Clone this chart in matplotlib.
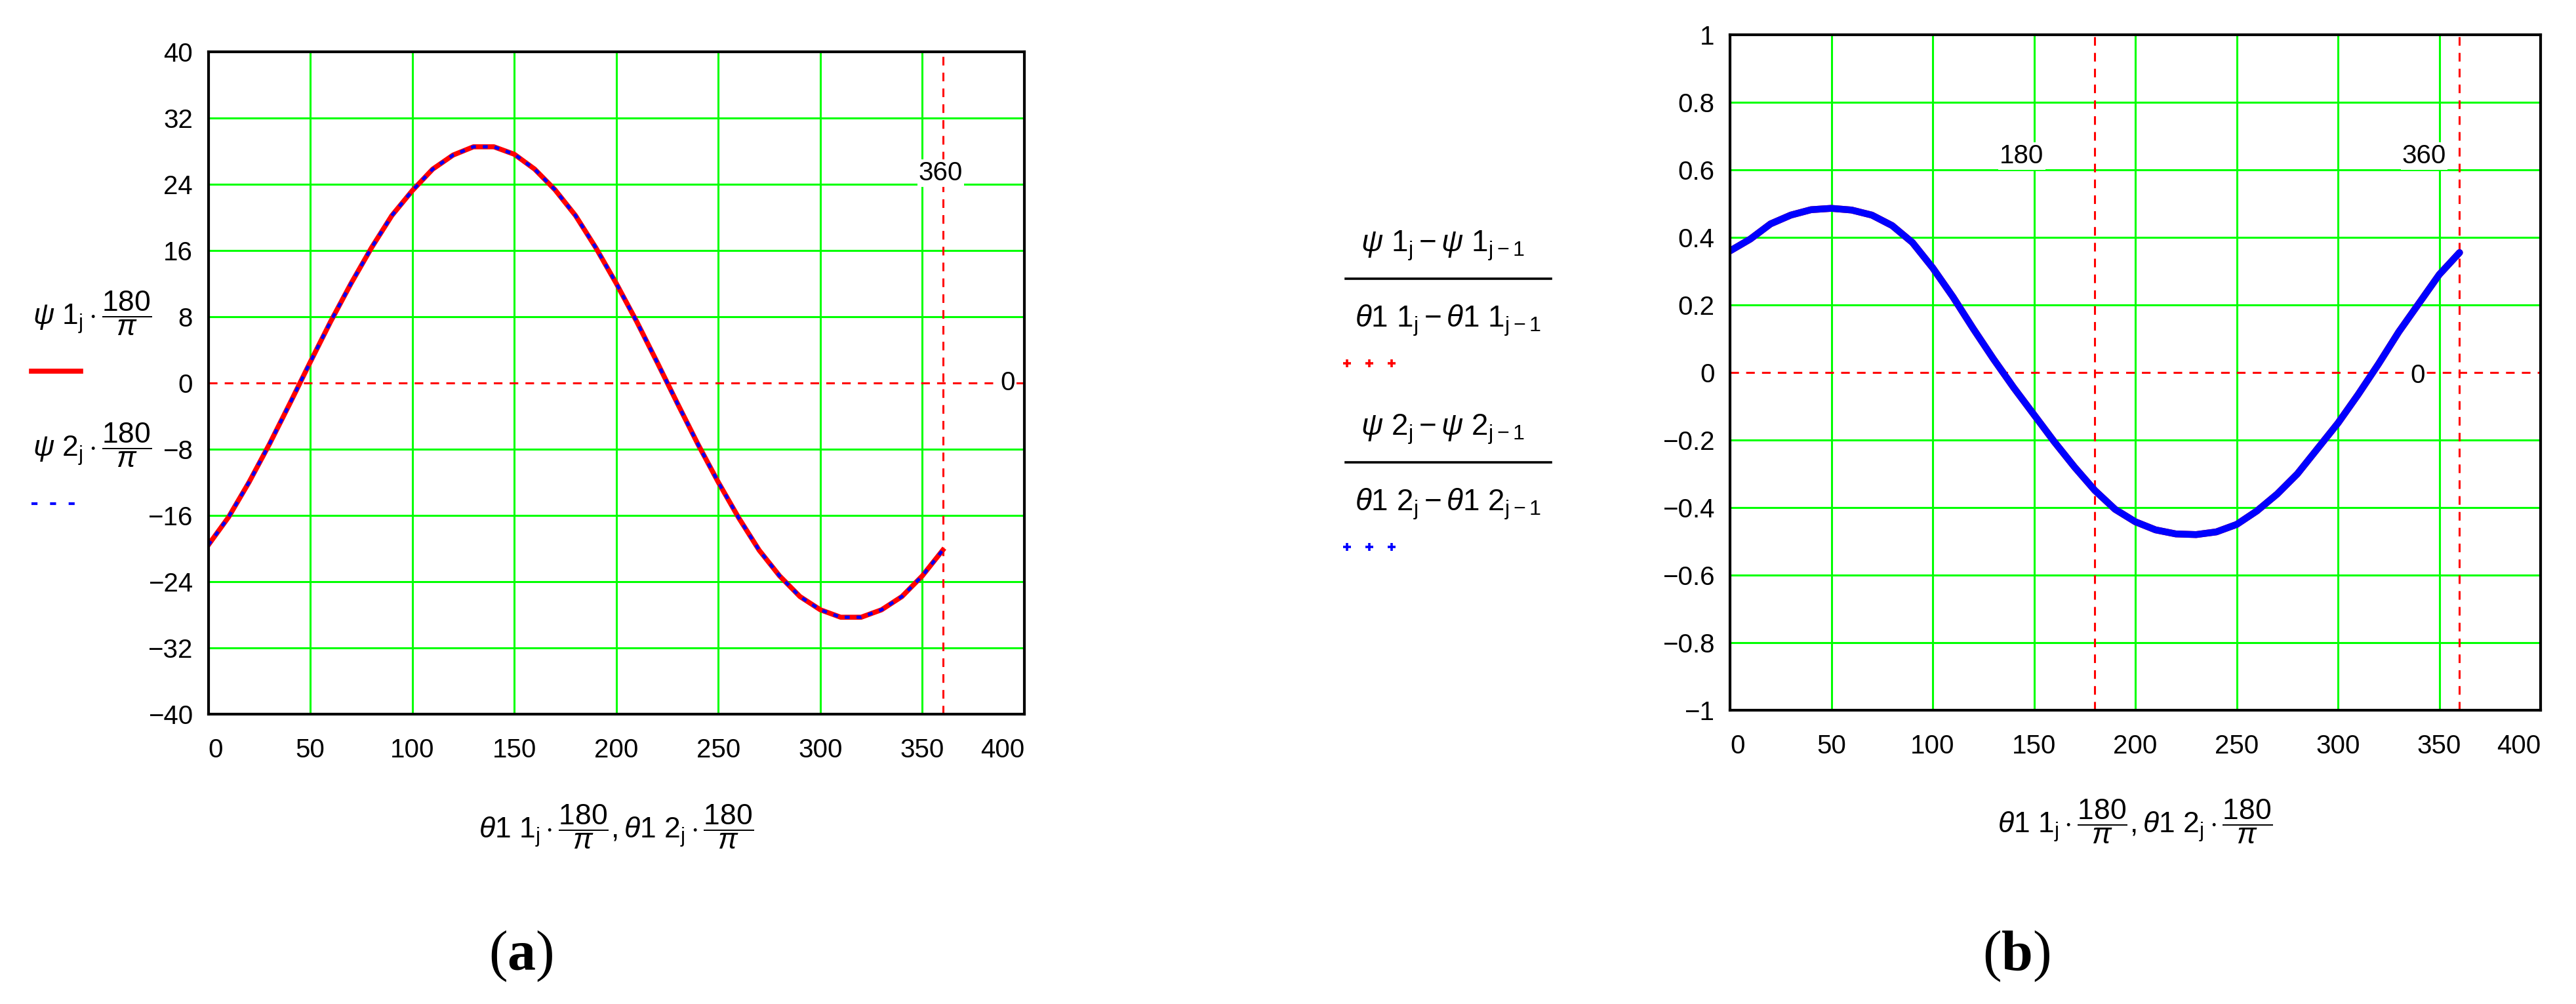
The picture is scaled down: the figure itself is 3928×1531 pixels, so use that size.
import matplotlib
matplotlib.use("Agg")
import matplotlib.pyplot as plt
from matplotlib.lines import Line2D

plt.rcParams['font.family'] = ['Liberation Sans', 'DejaVu Sans']
plt.rcParams['mathtext.fontset'] = 'custom'
plt.rcParams['mathtext.rm'] = 'Liberation Sans'
plt.rcParams['mathtext.it'] = 'Liberation Sans:italic'
plt.rcParams['mathtext.bf'] = 'Liberation Serif:bold'
plt.rcParams['axes.unicode_minus'] = True

# ---------------- data ----------------
theta = [0, 10, 20, 30, 40, 50, 60, 70, 80, 90, 100, 110, 120, 130, 140, 150,
         160, 170, 180, 190, 200, 210, 220, 230, 240, 250, 260, 270, 280, 290,
         300, 310, 320, 330, 340, 350, 360]

# psi1 * 180/pi  (deg)
psi_1 = [-19.6, -16.2, -12.0, -7.4, -2.5, 2.5, 7.4, 12.0, 16.3, 20.2, 23.2,
         25.8, 27.5, 28.5, 28.5, 27.6, 25.8, 23.3, 20.2, 16.3, 12.0, 7.4, 2.5,
         -2.5, -7.4, -12.0, -16.3, -20.2, -23.3, -25.8, -27.4, -28.3, -28.3,
         -27.4, -25.8, -23.3, -20.2]
# psi2 * 180/pi coincides with psi1
psi_2 = [-19.6, -16.2, -12.0, -7.4, -2.5, 2.5, 7.4, 12.0, 16.3, 20.2, 23.2,
         25.8, 27.5, 28.5, 28.5, 27.6, 25.8, 23.3, 20.2, 16.3, 12.0, 7.4, 2.5,
         -2.5, -7.4, -12.0, -16.3, -20.2, -23.3, -25.8, -27.4, -28.3, -28.3,
         -27.4, -25.8, -23.3, -20.2]

# finite-difference ratios (dimensionless)
dpsi_1 = [0.36, 0.395, 0.44, 0.466, 0.482, 0.486, 0.481, 0.466, 0.435, 0.385,
          0.31, 0.224, 0.13, 0.04, -0.045, -0.125, -0.205, -0.28, -0.349,
          -0.405, -0.442, -0.466, -0.478, -0.48, -0.472, -0.45, -0.41, -0.36,
          -0.30, -0.225, -0.15, -0.065, 0.025, 0.12, 0.205, 0.29, 0.355]
dpsi_2 = [0.36, 0.395, 0.44, 0.466, 0.482, 0.486, 0.481, 0.466, 0.435, 0.385,
          0.31, 0.224, 0.13, 0.04, -0.045, -0.125, -0.205, -0.28, -0.349,
          -0.405, -0.442, -0.466, -0.478, -0.48, -0.472, -0.45, -0.41, -0.36,
          -0.30, -0.225, -0.15, -0.065, 0.025, 0.12, 0.205, 0.29, 0.355]

xticks = [0, 50, 100, 150, 200, 250, 300, 350, 400]
xtick_labels = ["0", "50", "100", "150", "200", "250", "300", "350", "400"]
yticks_a = [-40, -32, -24, -16, -8, 0, 8, 16, 24, 32, 40]
ytick_labels_a = ["\u221240", "\u221232", "\u221224", "\u221216", "\u22128", "0",
                  "8", "16", "24", "32", "40"]
yticks_b = [-1, -0.8, -0.6, -0.4, -0.2, 0, 0.2, 0.4, 0.6, 0.8, 1]
ytick_labels_b = ["\u22121", "\u22120.8", "\u22120.6", "\u22120.4", "\u22120.2", "0",
                  "0.2", "0.4", "0.6", "0.8", "1"]

markers_a_x = [360]
markers_b_x = [180, 360]

# ---------------- figure ----------------
W, H = 3928, 1531
DPI = 100
fig = plt.figure(figsize=(W / DPI, H / DPI), dpi=DPI)


def fx(x):
    return x / W


def fy(y):
    return 1 - y / H


GREEN = '#00FF00'
TICK_FS = 29
FORM_FS = 32


def setup_axes(ax, yt, ytl, ylim):
    ax.set_xlim(0, 400)
    ax.set_ylim(*ylim)
    ax.set_xticks(xticks)
    ax.set_xticklabels(xtick_labels)
    ax.set_yticks(yt)
    ax.set_yticklabels(ytl)
    ax.tick_params(length=0, labelsize=TICK_FS)
    ax.tick_params(axis='x', pad=26)
    ax.tick_params(axis='y', pad=17)
    labs = ax.get_xticklabels()
    labs[0].set_ha('left')
    labs[-1].set_ha('right')
    for s in ax.spines.values():
        s.set_linewidth(3)
        s.set_color('black')
        s.set_zorder(6)
    for x in xticks[1:-1]:
        ax.axvline(x, color=GREEN, lw=2.2, zorder=1)
    for y in yt[1:-1]:
        if y != 0:
            ax.axhline(y, color=GREEN, lw=2.2, zorder=1)
    ax.axhline(0, color='red', lw=2.2, dashes=(4.3, 3.6), zorder=2)


# ---- panel (a) ----
ax_a = fig.add_axes([fx(317.5), fy(1089), fx(1562 - 317.5), (1089 - 78.6) / H])
setup_axes(ax_a, yticks_a, ytick_labels_a, (-40, 40))
for xm in markers_a_x:
    ax_a.axvline(xm, color='red', lw=2.2, dashes=(4.3, 3.6), zorder=2)
ax_a.plot(theta, psi_1, color='red', lw=5.5, solid_joinstyle='round', zorder=3)
ax_a.plot(theta, psi_2, color='blue', lw=3.6, dashes=(1.5, 2.1),
          dash_capstyle='butt', zorder=4)
lbl = dict(facecolor='white', edgecolor='none', pad=1.5)
ax_a.text(359, 25.3, "360", ha='center', va='center', fontsize=TICK_FS,
          bbox=lbl, zorder=5)
ax_a.text(392, 0, "0", ha='center', va='center', fontsize=TICK_FS,
          bbox=lbl, zorder=5)

# ---- panel (b) ----
ax_b = fig.add_axes([fx(2638), fy(1083), fx(3874 - 2638), (1083 - 53) / H])
setup_axes(ax_b, yticks_b, ytick_labels_b, (-1, 1))
for xm in markers_b_x:
    ax_b.axvline(xm, color='red', lw=2.2, dashes=(4.3, 3.6), zorder=2)
ax_b.plot(theta, dpsi_1, color='red', lw=7.5, solid_joinstyle='round',
          solid_capstyle='round', zorder=3)
ax_b.plot(theta, dpsi_2, color='blue', lw=7.5, solid_joinstyle='round',
          solid_capstyle='round', zorder=4)
ax_b.text(144, 0.64, "180", ha='center', va='center', fontsize=TICK_FS,
          bbox=lbl, zorder=5)
ax_b.text(342.6, 0.64, "360", ha='center', va='center', fontsize=TICK_FS,
          bbox=lbl, zorder=5)
ax_b.text(339.5, -0.01, "0", ha='center', va='center', fontsize=TICK_FS,
          bbox=lbl, zorder=5)

# ---- legend of (a) ----
fig.text(fx(50), fy(478), r"$\psi\ 1_{\mathrm{j}}\cdot\dfrac{180}{\pi}$",
         fontsize=FORM_FS, ha='left', va='center')
fig.text(fx(50), fy(679), r"$\psi\ 2_{\mathrm{j}}\cdot\dfrac{180}{\pi}$",
         fontsize=FORM_FS, ha='left', va='center')
fig.add_artist(Line2D([fx(48), fx(123)], [fy(566), fy(566)], color='red',
                      lw=5.5, transform=fig.transFigure))
fig.add_artist(Line2D([fx(48), fx(118)], [fy(768), fy(768)], color='blue',
                      lw=3.0, dashes=(2.2, 4.6), dash_capstyle='butt',
                      transform=fig.transFigure))

# ---- legend of (b): hand-set fractions ----
LEG_FS = 33
for k, (ybar, col) in enumerate([(425, 'red'), (705, 'blue')]):
    n = str(k + 1)
    num = (r"$\psi\ " + n + r"_{\mathrm{j}} - \psi\ " + n +
           r"_{\mathrm{j}-1}$")
    den = (r"$\theta1\ " + n + r"_{\mathrm{j}} - \theta1\ " + n +
           r"_{\mathrm{j}-1}$")
    fig.text(fx(2200), fy(ybar - 50), num, fontsize=LEG_FS,
             ha='center', va='center')
    fig.text(fx(2208), fy(ybar + 64), den, fontsize=LEG_FS,
             ha='center', va='center')
    fig.add_artist(Line2D([fx(2052), fx(2365)], [fy(ybar), fy(ybar)],
                          color='black', lw=2.6, transform=fig.transFigure))
    px_leg = [fx(2054), fx(2088), fx(2122)]
    fig.add_artist(Line2D(px_leg, [fy(ybar + 129)] * 3, ls='none', marker='+',
                          ms=9, mew=2.6, color=col, transform=fig.transFigure))

# ---- x labels ----
xlab = (r"$\theta1\ 1_{\mathrm{j}}\cdot\dfrac{180}{\pi},"
        r"\theta1\ 2_{\mathrm{j}}\cdot\dfrac{180}{\pi}$")
fig.text(fx(940), fy(1261), xlab, fontsize=FORM_FS, ha='center', va='center')
fig.text(fx(3256), fy(1253), xlab, fontsize=FORM_FS, ha='center', va='center')

# ---- panel letters ----
fig.text(fx(794), fy(1458), r"$\mathregular{(}\mathbf{a}\mathregular{)}$",
         fontsize=62, family='Liberation Serif', ha='center', va='center')
fig.text(fx(3075), fy(1458), r"$\mathregular{(}\mathbf{b}\mathregular{)}$",
         fontsize=62, family='Liberation Serif', ha='center', va='center')

fig.savefig("out.png", dpi=DPI, facecolor='white')
